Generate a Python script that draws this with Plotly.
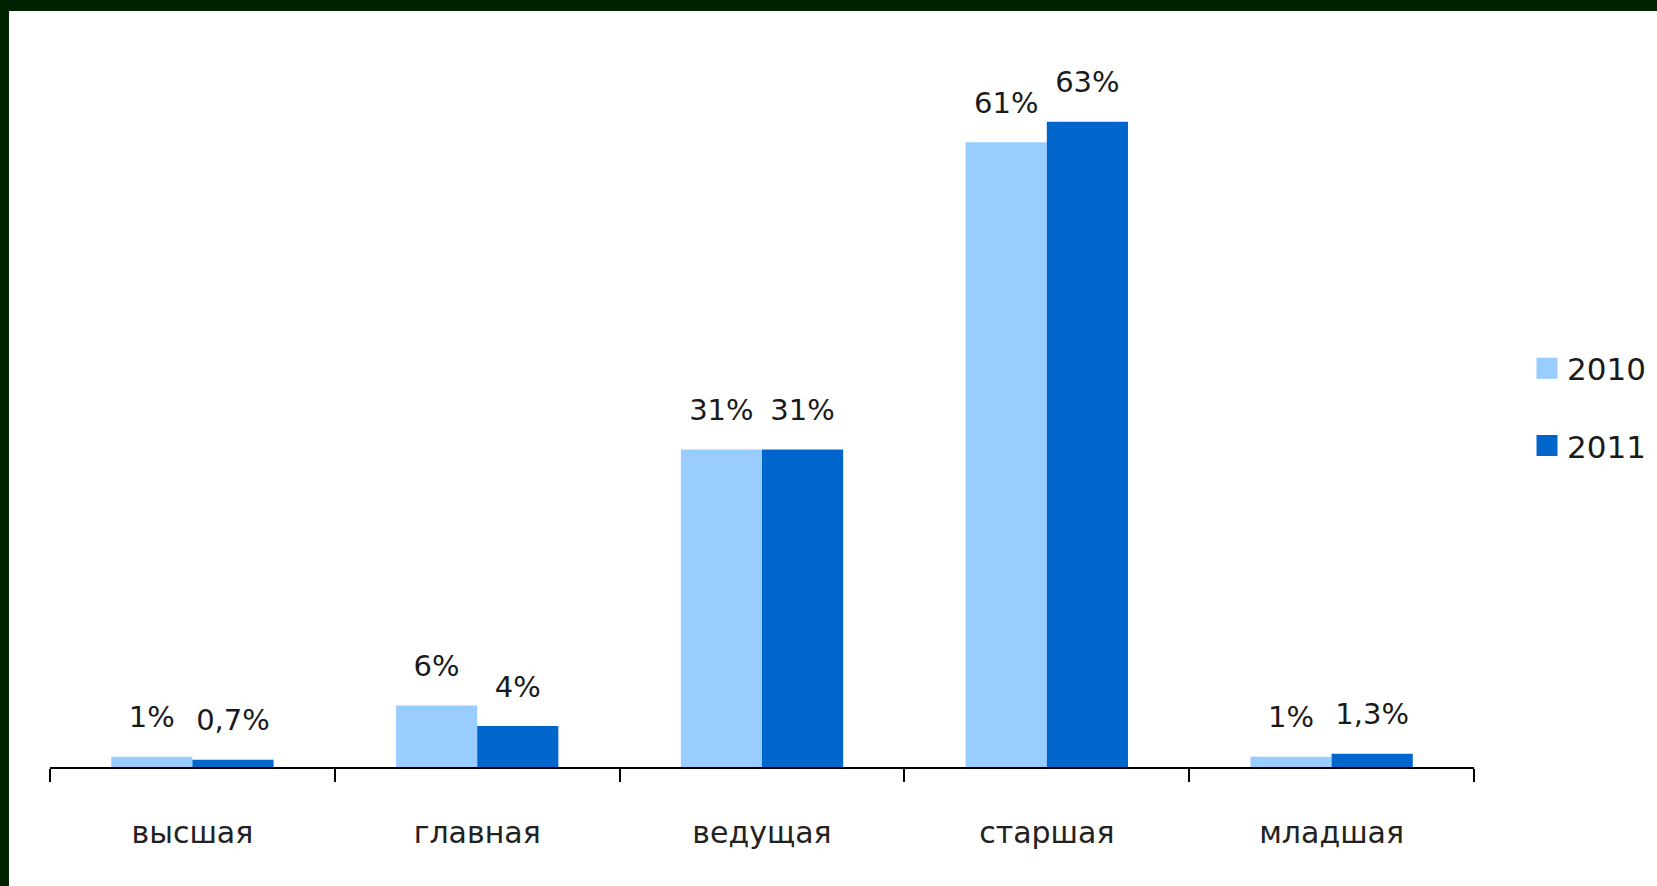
import plotly.graph_objects as go

categories = ["высшая", "главная", "ведущая", "старшая", "младшая"]
values_2010 = [1, 6, 31, 61, 1]
values_2011 = [0.7, 4, 31, 63, 1.3]
labels_2010 = ["1%", "6%", "31%", "61%", "1%"]
labels_2011 = ["0,7%", "4%", "31%", "63%", "1,3%"]
series_names = ["2010", "2011"]

LIGHT = "#99CCFF"
DARK = "#0066CC"
BORDER = "#002200"
W, H = 1657, 886
ML, MR, MT, MB = 50, 183, 50, 119
PW, PH = W - ML - MR, H - MT - MB


def px_x(p):
    return (p - ML) / PW


def px_y(p):
    return (H - MB - p) / PH


fig = go.Figure()
for name, vals, labs, col in [
    (series_names[0], values_2010, labels_2010, LIGHT),
    (series_names[1], values_2011, labels_2011, DARK),
]:
    fig.add_trace(go.Bar(
        x=categories, y=vals, name=name, marker=dict(color=col, line=dict(width=0)),
        offsetgroup=name, showlegend=False, hoverinfo="skip",
    ))
    fig.add_trace(go.Scatter(
        x=categories, y=vals, mode="markers+text", text=labs,
        textposition="top center", offsetgroup=name,
        marker=dict(size=34, opacity=0, color=col),
        textfont=dict(family="DejaVu Sans", size=29, color="#1a1a1a"),
        showlegend=False, hoverinfo="skip", cliponaxis=False,
    ))

for name, col in [(series_names[0], LIGHT), (series_names[1], DARK)]:
    fig.add_trace(go.Scatter(
        x=[None], y=[None], mode="markers", name=name, legendgroup=name,
        marker=dict(symbol="square", size=16, color=col, line=dict(width=5, color=col)),
    ))

fig.update_layout(
    width=W, height=H,
    margin=dict(l=ML, r=MR, t=MT, b=MB, autoexpand=False),
    paper_bgcolor="white", plot_bgcolor="white",
    barmode="group", bargap=0.43, bargroupgap=0,
    scattermode="group", scattergap=0.43,
    legend=dict(
        x=px_x(1527), xanchor="left", y=px_y(407), yanchor="middle",
        font=dict(family="DejaVu Sans", size=31, color="#1a1a1a"),
        tracegroupgap=34, traceorder="grouped", bgcolor="rgba(0,0,0,0)",
    ),
    xaxis=dict(
        showline=True, linecolor="black", linewidth=2,
        ticks="outside", tickson="boundaries", ticklen=13, tickwidth=2, tickcolor="black",
        tickfont=dict(family="DejaVu Sans", size=30, color="#222222"),
        ticklabelstandoff=38, showgrid=False, zeroline=False, fixedrange=True,
    ),
    yaxis=dict(visible=False, range=[0, 70], showgrid=False, zeroline=False, fixedrange=True),
    shapes=[
        dict(type="rect", xref="paper", yref="paper", x0=px_x(-5), x1=px_x(W + 5),
             y0=px_y(11), y1=px_y(-5), fillcolor=BORDER, line=dict(width=0), layer="above"),
        dict(type="rect", xref="paper", yref="paper", x0=px_x(-5), x1=px_x(9),
             y0=px_y(H + 5), y1=px_y(-5), fillcolor=BORDER, line=dict(width=0), layer="above"),
    ],
)

fig.write_html(
    "out.html",
    config={"displayModeBar": False},
    post_script="document.body.style.margin='0px';document.body.style.overflow='hidden';",
)
